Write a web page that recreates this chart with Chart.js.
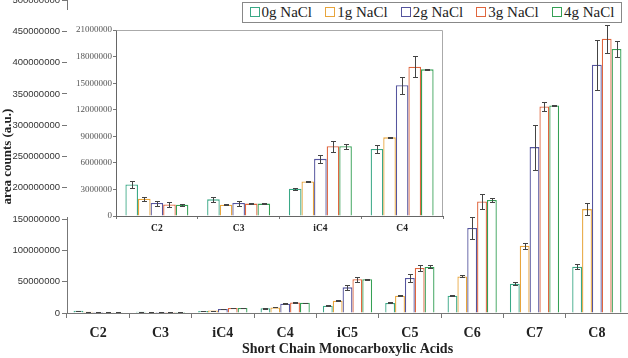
<!DOCTYPE html>
<html>
<head>
<meta charset="utf-8">
<script src="https://cdn.jsdelivr.net/npm/chart.js@4.4.1/dist/chart.umd.min.js"></script>
<style>
  html, body { margin: 0; padding: 0; background: #fff; }
  #wrap { position: relative; width: 628px; height: 358px; overflow: hidden; }
  #main { position: absolute; left: 0; top: 0; }
  #inset { position: absolute; left: 67px; top: 10px; }
  #legend {
    position: absolute; left: 242px; top: 2px; width: 378px; height: 19px;
    border: 1px solid #888; background: #fff;
    display: flex; align-items: center; justify-content: space-around;
    font: 15px 'Liberation Serif', serif; color: #222; white-space: nowrap;
  }
  #legend .sq { display: inline-block; width: 8px; height: 8px; border: 1px solid; margin-right: 2px; }
</style>
</head>
<body>
<div id="wrap">
  <canvas id="main" width="628" height="358"></canvas>
  <canvas id="inset" width="390" height="235"></canvas>
  <div id="legend"></div>
</div>
<script>
const categories = ['C2', 'C3', 'iC4', 'C4', 'iC5', 'C5', 'C6', 'C7', 'C8'];
const seriesNames = ['0g NaCl', '1g NaCl', '2g NaCl', '3g NaCl', '4g NaCl'];
const seriesColors = ['#3aa886', '#e8a53c', '#55559e', '#e0663e', '#35a055'];

// area counts
const nacl0 = [3560000, 1880000, 3080000, 7570000, 11700000, 16000000, 27600000, 46800000, 74000000];
const nacl1 = [1950000, 1280000, 3900000, 8880000, 19700000, 27600000, 58500000, 107500000, 166000000];
const nacl2 = [1460000, 1460000, 6450000, 14760000, 41000000, 56000000, 135800000, 265000000, 396600000];
const nacl3 = [1310000, 1400000, 7870000, 16850000, 54000000, 72000000, 178000000, 330000000, 438000000];
const nacl4 = [1280000, 1400000, 7870000, 16560000, 54000000, 73500000, 180500000, 331600000, 421700000];

// error bars (+/-)
const err0 = [360000, 320000, 100000, 500000, 800000, 800000, 1200000, 2700000, 4000000];
const err1 = [200000, 50000, 50000, 50000, 800000, 500000, 1500000, 5000000, 9000000];
const err2 = [280000, 280000, 470000, 940000, 4500000, 6000000, 17000000, 36000000, 40000000];
const err3 = [240000, 100000, 650000, 1200000, 4000000, 4800000, 11400000, 6700000, 22000000];
const err4 = [130000, 50000, 280000, 50000, 800000, 2400000, 3000000, 800000, 13000000];

const mainTicks = { min: 0, max: 500000000, step: 50000000 };
const insetTicks = { min: 0, max: 21000000, step: 3000000 };
const insetCount = 4; // C2, C3, iC4, C4

const allValues = [nacl0, nacl1, nacl2, nacl3, nacl4];
const allErrors = [err0, err1, err2, err3, err4];

function makeSets(n) {
    return allValues.map((vals, i) => ({
        label: seriesNames[i],
        data: vals.slice(0, n),
        borderColor: seriesColors[i],
        backgroundColor: '#fff',
        borderWidth: 1.3,
        barPercentage: 1
    }));
}

// draws the +/- error bars at each bar
const errorBars = {
    id: 'errorBars',
    afterDatasetsDraw(chart, args, opts) {
        const ctx = chart.ctx;
        const y = chart.scales.y;
        ctx.save();
        ctx.strokeStyle = '#444';
        ctx.lineWidth = 1;
        chart.data.datasets.forEach((ds, i) => {
            const meta = chart.getDatasetMeta(i);
            meta.data.forEach((bar, j) => {
                const v = ds.data[j];
                const e = allErrors[i][j];
                const top = Math.round(y.getPixelForValue(v + e)) + 0.5;
                const bot = Math.round(y.getPixelForValue(v - e)) + 0.5;
                const x = Math.round(bar.x) + 0.5;
                ctx.beginPath();
                ctx.moveTo(x, top); ctx.lineTo(x, bot);
                ctx.moveTo(x - opts.cap, top); ctx.lineTo(x + opts.cap, top);
                ctx.moveTo(x - opts.cap, bot); ctx.lineTo(x + opts.cap, bot);
                ctx.stroke();
            });
        });
        ctx.restore();
    }
};

// white background + grey frame on top/right of the inset plot
const insetFrame = {
    id: 'insetFrame',
    beforeDraw(chart) {
        const ctx = chart.ctx;
        ctx.save();
        ctx.fillStyle = '#fff';
        ctx.fillRect(0, 0, chart.width, chart.chartArea.bottom + 1);
        ctx.restore();
    },
    afterDraw(chart) {
        const {left, top, right, bottom} = chart.chartArea;
        const ctx = chart.ctx;
        ctx.save();
        ctx.strokeStyle = '#aaa';
        ctx.lineWidth = 1;
        ctx.beginPath();
        ctx.moveTo(Math.round(left) + 0.5, Math.round(top) + 0.5);
        ctx.lineTo(Math.round(right) - 0.5, Math.round(top) + 0.5);
        ctx.lineTo(Math.round(right) - 0.5, Math.round(bottom));
        ctx.stroke();
        ctx.restore();
    }
};

const serifBold = (size) => ({ family: "'Liberation Serif', 'Times New Roman', serif", size: size, weight: 'bold' });

new Chart(document.getElementById('main'), {
    type: 'bar',
    data: { labels: categories, datasets: makeSets(categories.length) },
    options: {
        responsive: false,
        animation: false,
        devicePixelRatio: 1,
        layout: { padding: 0 },
        datasets: { bar: { categoryPercentage: 0.79 } },
        plugins: {
            legend: { display: false },
            tooltip: { enabled: false },
            errorBars: { cap: 2.5 }
        },
        scales: {
            x: {
                grid: { drawOnChartArea: false, offset: true, tickLength: 5, color: '#777' },
                border: { color: '#777' },
                ticks: { font: serifBold(14), color: '#222', padding: 7, maxRotation: 0, autoSkip: false },
                title: {
                    display: true, text: 'Short Chain Monocarboxylic Acids',
                    font: serifBold(14), color: '#222', padding: { top: 0, bottom: 0 }
                },
                afterFit(s) { s.height = 45; s.paddingLeft = 0; s.paddingRight = 0; }
            },
            y: {
                min: mainTicks.min,
                max: mainTicks.max,
                ticks: {
                    stepSize: mainTicks.step,
                    font: { family: "'Liberation Sans', Arial, sans-serif", size: 9.5 },
                    color: '#333', padding: 2,
                    callback: (v) => String(v)
                },
                grid: { drawOnChartArea: false, tickLength: 5, color: '#777' },
                border: { color: '#777' },
                title: {
                    display: true, text: 'area counts (a.u.)',
                    font: serifBold(13), color: '#222', padding: { top: 0, bottom: 0 }
                },
                afterFit(s) { s.width = 67; s.paddingTop = 0; s.paddingBottom = 0; }
            }
        }
    },
    plugins: [errorBars]
});

new Chart(document.getElementById('inset'), {
    type: 'bar',
    data: { labels: categories.slice(0, insetCount), datasets: makeSets(insetCount) },
    options: {
        responsive: false,
        animation: false,
        devicePixelRatio: 1,
        layout: { padding: { top: 20, right: 14, left: 0, bottom: 0 } },
        datasets: { bar: { categoryPercentage: 0.77 } },
        plugins: {
            legend: { display: false },
            tooltip: { enabled: false },
            errorBars: { cap: 2.5 }
        },
        scales: {
            x: {
                grid: { drawOnChartArea: false, offset: true, tickLength: 3, color: '#777' },
                border: { color: '#666' },
                ticks: { font: serifBold(9.5), color: '#222', padding: 4, maxRotation: 0, autoSkip: false },
                afterFit(s) { s.height = 29; s.paddingLeft = 0; s.paddingRight = 0; }
            },
            y: {
                min: insetTicks.min,
                max: insetTicks.max,
                ticks: {
                    stepSize: insetTicks.step,
                    font: { family: "'Liberation Serif', 'Times New Roman', serif", size: 9 },
                    color: '#555', padding: 1,
                    callback: (v) => String(v)
                },
                grid: { drawOnChartArea: false, tickLength: 3, color: '#777' },
                border: { color: '#666' },
                afterFit(s) { s.width = 49; s.paddingTop = 0; s.paddingBottom = 0; }
            }
        }
    },
    plugins: [insetFrame, errorBars]
});

// legend as plain html over the top right corner
const legend = document.getElementById('legend');
seriesNames.forEach((name, i) => {
    const item = document.createElement('span');
    item.innerHTML = `<span class="sq" style="border-color:${seriesColors[i]}"></span>${name}`;
    legend.appendChild(item);
});
</script>
</body>
</html>
